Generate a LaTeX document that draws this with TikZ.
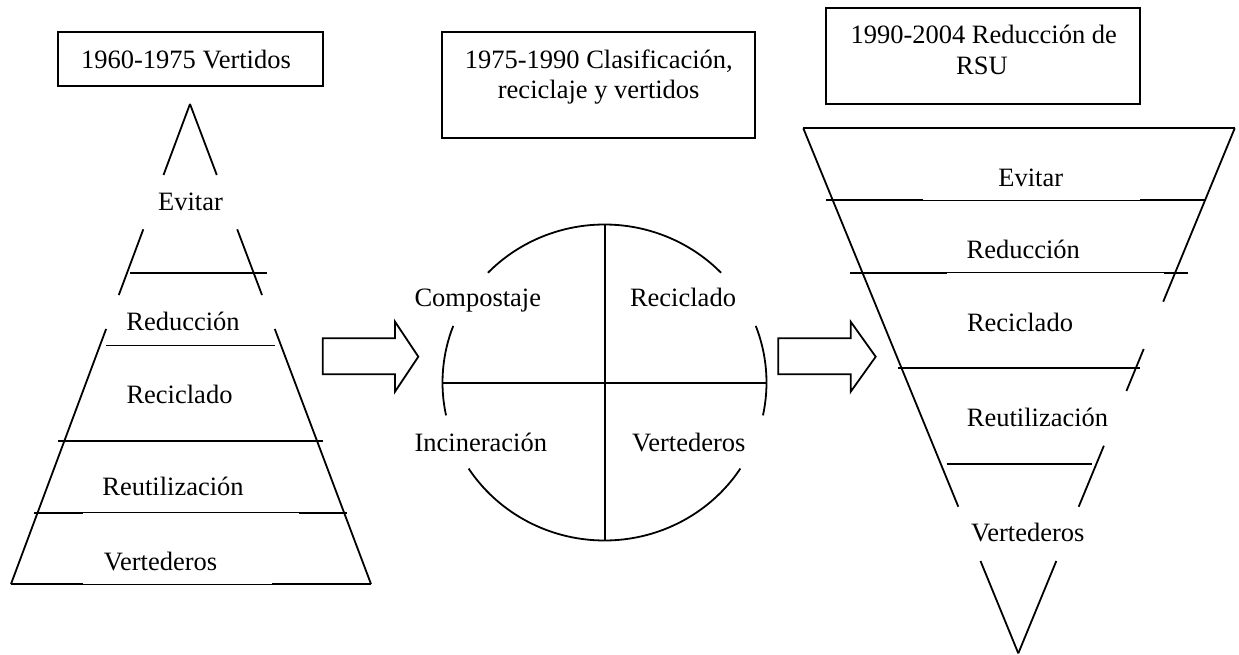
\documentclass[tikz,border=0pt]{standalone}
\usepackage{fontspec}
\setmainfont{Liberation Serif}
\begin{document}
\begin{tikzpicture}[x=1pt,y=-1pt,
  thk/.style={line width=1.8pt},
  thn/.style={line width=0.9pt},
  lbl/.style={inner sep=0pt, anchor=base, font=\fontsize{26.5}{30.7}\selectfont},
  framebox/.style={draw, line width=1.8pt, inner sep=0pt},
  blockarrow/.style={draw, line width=1.8pt, line join=miter}]
\fill[white] (0,0) rectangle (1239,655);
\useasboundingbox (0,0) rectangle (1239,655);

% ---- title boxes ----
\node[framebox, minimum width=265, minimum height=53.4] (lbox) at (190.5,59) {};
\node[lbl] (lboxt) at (186,68.3) {1960-1975 Vertidos};

\node[framebox, minimum width=312.7, minimum height=105.4] (mbox) at (598.7,85) {};
\node[lbl] (mboxt1) at (598.8,68.3) {1975-1990 Clasificación,};
\node[lbl] (mboxt2) at (598.7,99) {reciclaje y vertidos};

\node[framebox, minimum width=313.4, minimum height=96] (rbox) at (983,56.3) {};
\node[lbl] (rboxt1) at (983.7,44) {1990-2004 Reducción de};
\node[lbl] (rboxt2) at (982,75) {RSU};

% ---- left pyramid ----
\draw[thk] (190,104) -- (163.5,175);
\draw[thk] (143.3,229.3) -- (118.8,295);
\draw[thk] (106.1,329) -- (11,584);
\draw[thk] (190,104) -- (216.8,175);
\draw[thk] (237.2,229.3) -- (262,295);
\draw[thk] (274.8,329) -- (371,584);
\draw[thk] (130,272.7) -- (267,272.7);
\draw[thn] (106,345) -- (275,345);
\draw[thk] (58,440.7) -- (323,440.7);
\draw[thk] (34,512.7) -- (83,512.7);
\draw[thn] (83,512.7) -- (299,512.7);
\draw[thk] (299,512.7) -- (347,512.7);
\draw[thk] (11,584) -- (83,584);
\draw[thn] (83,584) -- (272,584);
\draw[thk] (272,584) -- (371,584);

\node[lbl] (l1) at (190.5,210.7) {Evitar};
\node[lbl] (l2) at (183,330) {Reducción};
\node[lbl] (l3) at (179.5,403.3) {Reciclado};
\node[lbl] (l4) at (173,495) {Reutilización};
\node[lbl] (l5) at (160.5,570) {Vertederos};

% ---- block arrows ----
\draw[blockarrow] (322.7,338.3) -- (395,338.3) -- (395,321.7) -- (418.3,356.7) -- (395,391.7) -- (395,374.3) -- (322.7,374.3) -- cycle;
\draw[blockarrow] (778.3,338.3) -- (850.7,338.3) -- (850.7,321.7) -- (875.7,356.7) -- (850.7,391.7) -- (850.7,374.3) -- (778.3,374.3) -- cycle;

% ---- circle ----
\coordinate (cc) at (604.5,382.5);
\draw[thk] (cc) ++(224:162 and 158) arc[start angle=224, end angle=316, x radius=162, y radius=158];
\draw[thk] (cc) ++(168:162 and 158) arc[start angle=168, end angle=201, x radius=162, y radius=158];
\draw[thk] (cc) ++(-21:162 and 158) arc[start angle=-21, end angle=12, x radius=162, y radius=158];
\draw[thk] (cc) ++(33:162 and 158) arc[start angle=33, end angle=147, x radius=162, y radius=158];
\draw[thk] (605,224) -- (605,540.7);
\draw[thk] (442.5,383.3) -- (766.5,383.3);

\node[lbl] (c1) at (477.8,306.7) {Compostaje};
\node[lbl] (c2) at (683,306.7) {Reciclado};
\node[lbl] (c3) at (480.8,451) {Incineración};
\node[lbl] (c4) at (688.8,451) {Vertederos};

% ---- inverted triangle ----
\draw[thk] (803.3,128.3) -- (1234.7,128.3);
\draw[thk] (803.3,128.3) -- (958.3,506.7);
\draw[thk] (980.5,561) -- (1018.3,653.3);
\draw[thk] (1234.7,128.3) -- (1163.2,301.7);
\draw[thk] (1143.7,349) -- (1126.4,391);
\draw[thk] (1103.9,445.7) -- (1078.7,506.7);
\draw[thk] (1056.3,561) -- (1018.3,653.3);
\draw[thk] (826.3,200) -- (923,200);
\draw[thn] (923,200) -- (1140,200);
\draw[thk] (1140,200) -- (1205,200);
\draw[thk] (850,272.7) -- (946.7,272.7);
\draw[thn] (946.7,272.7) -- (1164,272.7);
\draw[thk] (1164,272.7) -- (1188,272.7);
\draw[thk] (898.3,368.3) -- (1139.7,368.3);
\draw[thk] (946.7,464.3) -- (1091.7,464.3);

\node[lbl] (r1) at (1030.7,186.7) {Evitar};
\node[lbl] (r2) at (1023.3,258.3) {Reducción};
\node[lbl] (r3) at (1020,331) {Reciclado};
\node[lbl] (r4) at (1037.5,426.7) {Reutilización};
\node[lbl] (r5) at (1027.8,541.7) {Vertederos};
\end{tikzpicture}
\end{document}
